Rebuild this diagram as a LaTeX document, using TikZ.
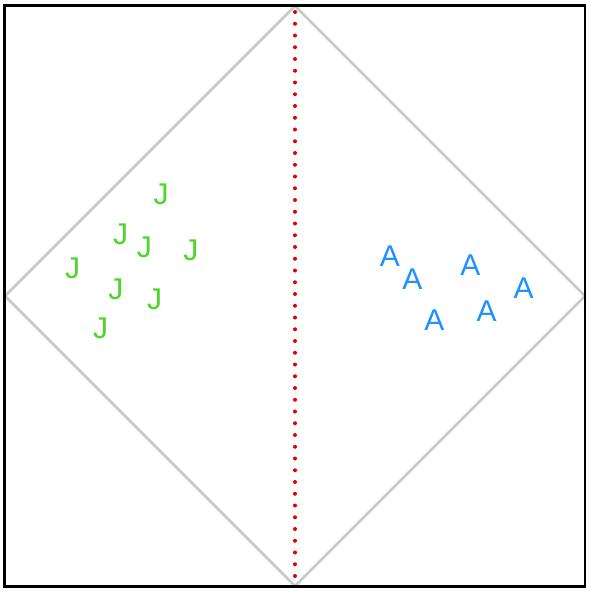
\documentclass[tikz,border=0pt]{standalone}
\usepackage{fontspec}
\setmainfont{Liberation Sans}
\definecolor{jgreen}{RGB}{76,214,40}
\definecolor{ablue}{RGB}{30,144,255}
\definecolor{dred}{RGB}{224,0,0}
\definecolor{dgray}{RGB}{200,200,200}
\begin{document}
\begin{tikzpicture}[x=1pt,y=-1pt,
  jlab/.style={inner sep=0pt,text=jgreen,font=\fontsize{30}{30}\selectfont},
  alab/.style={inner sep=0pt,text=ablue,font=\fontsize{30}{30}\selectfont},
  diam/.style={draw=dgray,line width=2.5pt},
  frame/.style={draw=black,line width=2.6pt}]
\useasboundingbox (0,0) rectangle (589,592);
\coordinate (T) at (295,6);
\coordinate (L) at (5,296);
\coordinate (R) at (585,296);
\coordinate (B) at (295,586);
\draw[diam] (T) -- (R) -- (B) -- (L) -- cycle;
\foreach \i in {0,...,48}{
  \fill[dred] (295,{12+\i*11.75}) circle (2pt);
}
\draw[frame] (4.5,5.3) rectangle (585,586.5);
\node[jlab] (j1) at (161,194.3) {J};
\node[jlab] (j2) at (120.7,234) {J};
\node[jlab] (j3) at (144.3,247.5) {J};
\node[jlab] (j4) at (190.8,250) {J};
\node[jlab] (j5) at (72.5,268.5) {J};
\node[jlab] (j6) at (115.8,289) {J};
\node[jlab] (j7) at (154.7,299) {J};
\node[jlab] (j8) at (100.5,328) {J};
\node[alab] (a1) at (390,256.2) {A};
\node[alab] (a2) at (412.5,279.5) {A};
\node[alab] (a3) at (470.3,265.5) {A};
\node[alab] (a4) at (523.7,288.5) {A};
\node[alab] (a5) at (486.7,311) {A};
\node[alab] (a6) at (434.3,320) {A};
\end{tikzpicture}
\end{document}
